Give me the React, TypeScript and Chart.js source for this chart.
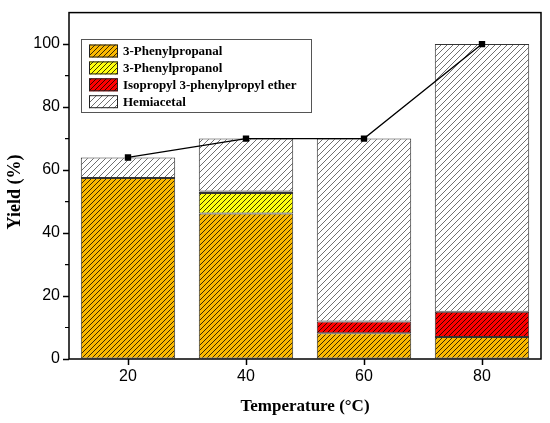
import { useEffect, useRef } from 'react';
import { Chart, registerables } from 'chart.js';
import type { Plugin } from 'chart.js';

Chart.register(...registerables);

const temperatures = ['20', '40', '60', '80'];
const phenylpropanal = [57.5, 46.2, 8.2, 7.0];
const phenylpropanol = [null, 6.5, null, null];
const isopropylEther = [null, 0.5, 3.7, 8.0];
const hemiacetal = [6.5, 16.8, 58.1, 85.0];
const totalYield = [64, 70, 70, 100];

const seriesNames = ['3-Phenylpropanal', '3-Phenylpropanol', 'Isopropyl 3-phenylpropyl ether', 'Hemiacetal'];
const fillColors = ['#FBB900', '#FFFF10', '#FF0000', '#FFFFFF'];
const hatchColors = ['#3a2a00', '#3a3a00', '#3a0000', '#707070'];
const hatchSizes = [5, 5, 5, 6];

function makeHatch(bg: string, line: string, s: number) {
  const c = document.createElement('canvas');
  c.width = s;
  c.height = s;
  const g = c.getContext('2d')!;
  g.fillStyle = bg;
  g.fillRect(0, 0, s, s);
  g.strokeStyle = line;
  g.lineWidth = 1;
  g.beginPath();
  g.moveTo(0, s);
  g.lineTo(s, 0);
  g.moveTo(-1, 1);
  g.lineTo(1, -1);
  g.moveTo(s - 1, s + 1);
  g.lineTo(s + 1, s - 1);
  g.stroke();
  return g.createPattern(c, 'repeat')!;
}

export default function App() {
  const canvasRef = useRef<HTMLCanvasElement>(null);
  const chartRef = useRef<Chart | null>(null);

  useEffect(() => {
    document.body.style.margin = '0';
    if (!canvasRef.current) return;
    const ctx = canvasRef.current.getContext('2d');
    if (!ctx) return;

    const patterns = fillColors.map((c, i) => makeHatch(c, hatchColors[i], hatchSizes[i]));

    const extras: Plugin = {
      id: 'extras',
      afterDraw(chart) {
        const { ctx: g, chartArea: a } = chart;
        const y = chart.scales.y;
        g.save();
        // frame
        g.strokeStyle = '#000';
        g.lineWidth = 1.5;
        g.strokeRect(a.left, a.top, a.right - a.left, a.bottom - a.top);
        // minor ticks
        g.lineWidth = 1.2;
        g.beginPath();
        for (let v = 10; v <= 100; v += 20) {
          const py = y.getPixelForValue(v);
          g.moveTo(a.left - 4, py);
          g.lineTo(a.left, py);
        }
        g.stroke();
        // y title
        g.fillStyle = '#000';
        g.font = 'bold 18px "Liberation Serif"';
        g.textAlign = 'center';
        g.textBaseline = 'middle';
        g.translate(15, 192);
        g.rotate(-Math.PI / 2);
        g.fillText('Yield (%)', 0, 0);
        g.restore();

        // legend
        g.save();
        g.strokeStyle = '#555';
        g.lineWidth = 1;
        g.strokeRect(81.5, 39.5, 230, 73);
        g.font = 'bold 13px "Liberation Serif"';
        g.textBaseline = 'middle';
        g.fillStyle = '#000';
        seriesNames.forEach((name, i) => {
          const cy = 51 + i * 16.9;
          g.fillStyle = patterns[i];
          g.fillRect(89, cy - 6.5, 29, 13);
          g.strokeStyle = '#222';
          g.strokeRect(89.5, cy - 6, 28, 12);
          g.fillStyle = '#000';
          g.fillText(name, 123, cy + 0.5);
        });
        g.restore();
      },
    };

    const barDefaults = {
      type: 'bar' as const,
      borderColor: '#333',
      borderWidth: 1,
      borderSkipped: false,
      barPercentage: 0.8,
      categoryPercentage: 1,
      stack: 'parts',
      order: 1,
    };

    chartRef.current = new Chart(ctx, {
      type: 'bar',
      data: {
        labels: temperatures,
        datasets: [
          {
            type: 'line',
            label: 'Total',
            data: totalYield,
            borderColor: '#000',
            borderWidth: 1.3,
            pointStyle: 'rect',
            pointRadius: 4.5,
            pointBorderWidth: 0,
            pointBackgroundColor: '#000',
            stack: 'total',
            order: 0,
          },
          { ...barDefaults, label: seriesNames[0], data: phenylpropanal, backgroundColor: patterns[0] },
          { ...barDefaults, label: seriesNames[1], data: phenylpropanol, backgroundColor: patterns[1] },
          { ...barDefaults, label: seriesNames[2], data: isopropylEther, backgroundColor: patterns[2] },
          { ...barDefaults, label: seriesNames[3], data: hemiacetal, backgroundColor: patterns[3] },
        ] as any,
      },
      options: {
        animation: false,
        responsive: false,
        layout: { padding: { top: 5, right: 9, left: 0, bottom: 0 } },
        plugins: {
          legend: { display: false },
          tooltip: { enabled: false },
        },
        scales: {
          x: {
            stacked: true,
            offset: true,
            afterFit: (s) => {
              s.height = 64;
            },
            grid: {
              offset: false,
              drawOnChartArea: false,
              tickLength: 6,
              tickColor: '#000',
              tickWidth: 1.5,
            },
            border: { display: false },
            ticks: {
              color: '#000',
              padding: 2,
              font: { family: '"Liberation Sans"', size: 16 },
            },
            title: {
              display: true,
              text: 'Temperature (°C)',
              color: '#000',
              padding: { top: 0, bottom: 6 },
              font: { family: '"Liberation Serif"', size: 17, weight: 'bold' },
            },
          },
          y: {
            stacked: true,
            min: 0,
            max: 110,
            afterFit: (s) => {
              s.width = 69;
            },
            grid: {
              drawOnChartArea: false,
              tickLength: 6,
              tickColor: '#000',
              tickWidth: 1.5,
            },
            border: { display: false },
            ticks: {
              stepSize: 20,
              includeBounds: false,
              color: '#000',
              padding: 3,
              font: { family: '"Liberation Sans"', size: 16 },
            },
          },
        },
      },
      plugins: [extras],
    });

    return () => {
      if (chartRef.current) {
        chartRef.current.destroy();
        chartRef.current = null;
      }
    };
  }, []);

  return (
    <div style={{ width: '550px', height: '423px', background: '#fff' }}>
      <canvas ref={canvasRef} width={550} height={423}></canvas>
    </div>
  );
}
